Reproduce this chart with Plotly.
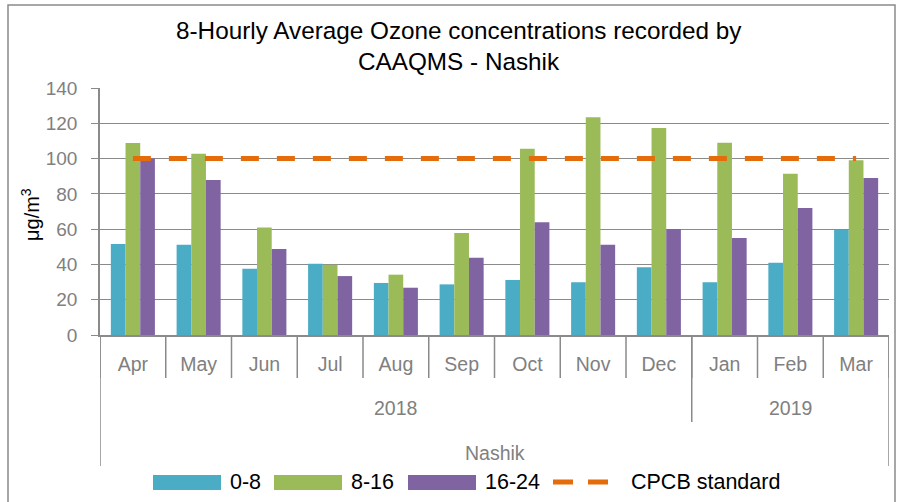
import plotly.graph_objects as go

months = ["Apr", "May", "Jun", "Jul", "Aug", "Sep", "Oct", "Nov", "Dec", "Jan", "Feb", "Mar"]
years = ["2018", "2019"]
year_counts = [9, 3]
station = "Nashik"

s_0_8 = [51.6, 51.2, 37.6, 40.4, 29.5, 28.7, 31.2, 29.9, 38.4, 29.9, 41.0, 59.5]
s_8_16 = [108.8, 102.8, 61.0, 39.8, 34.2, 57.8, 105.6, 123.4, 117.3, 109.0, 91.4, 99.0]
s_16_24 = [100.1, 87.9, 48.8, 33.4, 26.8, 43.8, 63.9, 51.2, 60.1, 55.0, 72.0, 89.0]
cpcb_standard = [100] * 12

series_names = ["0-8", "8-16", "16-24"]
series_colors = ["#4BACC6", "#9BBB59", "#8064A2"]
line_name = "CPCB standard"
line_color = "#E46C0A"

FONT = "Liberation Sans, Arial, sans-serif"
GRID = "#8a8a8a"
GREY_TXT = "#808080"

W, H = 899, 502
L, R, T, B = 100, 10, 88, 167
PW, PH = W - L - R, H - T - B


def px(x):
    return (x - L) / PW


def py(y):
    return (H - B - y) / PH


fig = go.Figure()
for name, vals, col in zip(series_names, [s_0_8, s_8_16, s_16_24], series_colors):
    fig.add_trace(go.Bar(x=months, y=vals, name=name, marker=dict(color=col, line=dict(width=0)),
                         showlegend=False))
fig.add_trace(go.Scatter(x=months, y=cpcb_standard, name=line_name, mode="lines",
                         line=dict(color=line_color, width=5, dash="18px,18px"), showlegend=False))

shapes = []
# month boundaries
for i in range(len(months) + 1):
    b = i - 0.5
    shapes.append(dict(type="line", xref="x", yref="paper", x0=b, x1=b, y0=0, y1=py(378),
                       line=dict(color=GRID, width=1.5)))
# year boundaries
cum = 0
for c in year_counts[:-1]:
    cum += c
    b = cum - 0.5
    shapes.append(dict(type="line", xref="x", yref="paper", x0=b, x1=b, y0=0, y1=py(422),
                       line=dict(color=GRID, width=1.5)))
# outer boundaries
for b in [-0.5, len(months) - 0.5]:
    shapes.append(dict(type="line", xref="x", yref="paper", x0=b, x1=b, y0=0, y1=py(466),
                       line=dict(color=GRID, width=1.5)))
# chart border
shapes.append(dict(type="rect", xref="paper", yref="paper", x0=px(8), x1=px(895), y0=py(5), y1=py(510),
                   line=dict(color=GRID, width=1.5), fillcolor="rgba(0,0,0,0)", layer="below"))

annotations = []
# year labels
cum = 0
for yr, c in zip(years, year_counts):
    annotations.append(dict(x=cum + (c - 1) / 2, y=py(408), xref="x", yref="paper", text=yr,
                            showarrow=False, font=dict(family=FONT, size=19.5, color=GREY_TXT),
                            xanchor="center", yanchor="middle"))
    cum += c
annotations.append(dict(x=(len(months) - 1) / 2, y=py(453), xref="x", yref="paper", text=station,
                        showarrow=False, font=dict(family=FONT, size=19.5, color=GREY_TXT),
                        xanchor="center", yanchor="middle"))
# title
annotations.append(dict(x=px(459), y=py(30), xref="paper", yref="paper",
                        text="8-Hourly Average Ozone concentrations recorded by",
                        showarrow=False, font=dict(family=FONT, size=24.3, color="#000000"),
                        xanchor="center", yanchor="middle"))
annotations.append(dict(x=px(459), y=py(62), xref="paper", yref="paper",
                        text="CAAQMS - Nashik",
                        showarrow=False, font=dict(family=FONT, size=24.3, color="#000000"),
                        xanchor="center", yanchor="middle"))
# y axis title
annotations.append(dict(x=px(30), y=py(215), xref="paper", yref="paper", text="μg/m<sup>3</sup>",
                        textangle=-90, showarrow=False, font=dict(family=FONT, size=20, color="#000000"),
                        xanchor="center", yanchor="middle"))

# custom legend
leg_y = py(482)
sw_x = [(153, 221), (274, 342), (408, 476)]
txt_x = [228, 349, 483]
for (a, b), tx, name, col in zip(sw_x, txt_x, series_names, series_colors):
    shapes.append(dict(type="rect", xref="paper", yref="paper", x0=px(a), x1=px(b),
                       y0=py(490), y1=py(475), line=dict(width=0), fillcolor=col))
    annotations.append(dict(x=px(tx), y=leg_y, xref="paper", yref="paper", text=name, showarrow=False,
                            font=dict(family=FONT, size=21.5, color="#000000"),
                            xanchor="left", yanchor="middle"))
shapes.append(dict(type="line", xref="paper", yref="paper", x0=px(553), x1=px(608), y0=leg_y, y1=leg_y,
                   line=dict(color=line_color, width=5, dash="20px,15px")))
annotations.append(dict(x=px(629), y=leg_y, xref="paper", yref="paper", text=line_name, showarrow=False,
                        font=dict(family=FONT, size=21.5, color="#000000"),
                        xanchor="left", yanchor="middle"))

fig.update_layout(
    width=W, height=H,
    margin=dict(l=L, r=R, t=T, b=B),
    paper_bgcolor="white", plot_bgcolor="white",
    barmode="group", bargap=0.33, bargroupgap=0,
    shapes=shapes, annotations=annotations,
    font=dict(family=FONT, size=19, color=GREY_TXT),
    xaxis=dict(type="category", range=[-0.5, 11.5], showgrid=False, ticks="",
               tickfont=dict(family=FONT, size=19.5, color=GREY_TXT),
               showline=True, linecolor=GRID, linewidth=1.5, ticklabelstandoff=11,
               fixedrange=True),
    yaxis=dict(range=[0, 140], dtick=20, showgrid=True, gridcolor=GRID, gridwidth=1.4,
               ticks="outside", ticklen=7, tickcolor=GRID, tickwidth=1.4,
               tickfont=dict(family=FONT, size=19, color=GREY_TXT),
               showline=True, linecolor=GRID, linewidth=1.5, ticklabelstandoff=10,
               zeroline=False),
)

fig.write_html("out.html", config={"displayModeBar": False},
               post_script="document.body.style.margin='0';document.body.style.overflow='hidden';")
